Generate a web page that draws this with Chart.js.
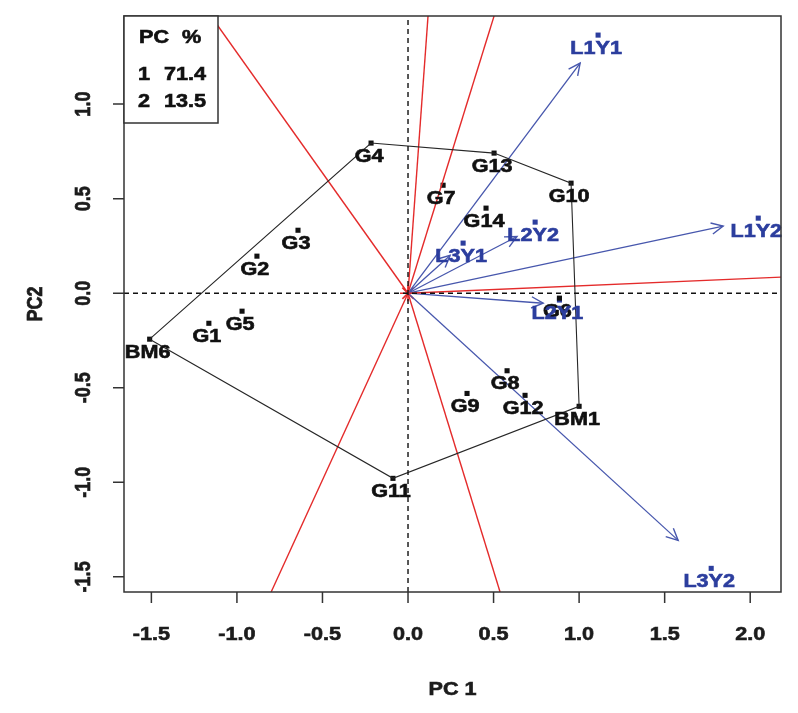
<!DOCTYPE html>
<html>
<head>
<meta charset="utf-8">
<script src="https://cdn.jsdelivr.net/npm/chart.js@4.4.1/dist/chart.umd.min.js"></script>
<style>
html,body{margin:0;padding:0;background:#fff;}
#c{display:block;}
</style>
</head>
<body>
<canvas id="c" width="798" height="713"></canvas>
<script>
// ---- data ----
const genotypes = ['G1','G2','G3','G4','G5','G6','G7','G8','G9','G10','G11','G12','G13','G14','BM1','BM6'];
const genoPC1 = [-1.164,-0.883,-0.643,-0.216,-0.970,0.885,0.205,0.579,0.345,0.953,-0.088,0.684,0.503,0.456,1.000,-1.510];
const genoPC2 = [-0.159, 0.196, 0.333, 0.794,-0.095,-0.026,0.571,-0.410,-0.530,0.582,-0.979,-0.540,0.741,0.450,-0.598,-0.243];

const environments = ['L1Y1','L1Y2','L2Y1','L2Y2','L3Y1','L3Y2'];
const envTipPC1 = [1.006, 1.842, 0.790, 0.637, 0.246, 1.579];
const envTipPC2 = [1.217, 0.355,-0.053, 0.300, 0.200,-1.307];
const envLabelPC1 = [1.111, 2.047, 0.885, 0.743, 0.322, 1.772];
const envLabelPC2 = [1.365, 0.397,-0.036, 0.376, 0.265,-1.455];

const hullOrder = ['BM6','G4','G13','G10','BM1','G11','BM6'];

const rayEndPC1 = [-1.152, 0.117, 0.503, 2.180, 0.538, -0.800];
const rayEndPC2 = [ 1.466, 1.466, 1.466, 0.085,-1.580, -1.580];

const xTicks = [-1.5,-1.0,-0.5,0.0,0.5,1.0,1.5,2.0];
const yTicks = [-1.5,-1.0,-0.5,0.0,0.5,1.0];
const legendHeader = ['PC','%'];
const legendPC = ['1','2'];
const legendPct = ['71.4','13.5'];
const xTitle = 'PC 1';
const yTitle = 'PC2';

// ---- styles ----
const FONT = 'bold 18px "Liberation Sans", Arial, Helvetica, sans-serif';
const SX = 1.2;
const BLUE_TXT = '#2c3e9e';
const BLUE_LINE = '#4757ad';
const RED = '#e42b2b';

const genoIdx = n => genotypes.indexOf(n);
const hullData = hullOrder.map(n => ({x: genoPC1[genoIdx(n)], y: genoPC2[genoIdx(n)]}));

const datasets = [];
// dashed reference axes
datasets.push({data:[{x:-1.66,y:0},{x:2.18,y:0}], showLine:true, borderColor:'#111', borderWidth:1.4, borderDash:[5,4], pointRadius:0});
datasets.push({data:[{x:0,y:-1.58},{x:0,y:1.466}], showLine:true, borderColor:'#111', borderWidth:1.4, borderDash:[5,4], pointRadius:0});
// hull
datasets.push({data:hullData, showLine:true, borderColor:'#262626', borderWidth:1.1, pointRadius:0});
// red rays
rayEndPC1.forEach((x,i)=>{
  datasets.push({data:[{x:0,y:0},{x:x,y:rayEndPC2[i]}], showLine:true, borderColor:RED, borderWidth:1.4, pointRadius:0});
});
// blue vectors
envTipPC1.forEach((x,i)=>{
  datasets.push({data:[{x:0,y:0},{x:x,y:envTipPC2[i]}], showLine:true, borderColor:BLUE_LINE, borderWidth:1.3, pointRadius:0, arrow:true});
});
// origin marker
datasets.push({data:[{x:0,y:0}], pointStyle:'star', pointRadius:8, borderColor:RED, backgroundColor:RED, borderWidth:1.6});
// genotype markers
datasets.push({data:genotypes.map((g,i)=>({x:genoPC1[i],y:genoPC2[i]})), pointStyle:'rect', pointRadius:3.6, backgroundColor:'#111', borderColor:'#111', borderWidth:0, labels:genotypes, labelColor:'#111'});
// environment markers
datasets.push({data:environments.map((e,i)=>({x:envLabelPC1[i],y:envLabelPC2[i]})), pointStyle:'rect', pointRadius:3.6, backgroundColor:BLUE_TXT, borderColor:BLUE_TXT, borderWidth:0, labels:environments, labelColor:BLUE_TXT});

function sText(ctx, txt, x, y, align, rot){
  ctx.save();
  ctx.translate(x,y);
  ctx.scale(SX,1);
  if(rot) ctx.rotate(-Math.PI/2);
  ctx.textAlign = align;
  ctx.textBaseline = 'alphabetic';
  ctx.lineWidth = 0.6;
  ctx.strokeStyle = ctx.fillStyle;
  ctx.fillText(txt,0,0);
  ctx.strokeText(txt,0,0);
  ctx.restore();
}

const decor = {
  id:'decor',
  afterDatasetsDraw(chart){
    const ctx = chart.ctx, a = chart.chartArea;
    const xs = chart.scales.x, ys = chart.scales.y;
    // arrowheads
    chart.data.datasets.forEach(ds=>{
      if(!ds.arrow) return;
      const p0 = ds.data[0], p1 = ds.data[1];
      const x0 = xs.getPixelForValue(p0.x), y0 = ys.getPixelForValue(p0.y);
      const x1 = xs.getPixelForValue(p1.x), y1 = ys.getPixelForValue(p1.y);
      const ang = Math.atan2(y1-y0, x1-x0);
      const L = 13, w = 0.45;
      ctx.save();
      ctx.strokeStyle = ds.borderColor; ctx.lineWidth = 1.4;
      ctx.beginPath();
      ctx.moveTo(x1 - L*Math.cos(ang-w), y1 - L*Math.sin(ang-w));
      ctx.lineTo(x1,y1);
      ctx.lineTo(x1 - L*Math.cos(ang+w), y1 - L*Math.sin(ang+w));
      ctx.stroke();
      ctx.restore();
    });
    // point labels
    ctx.save();
    ctx.font = FONT;
    chart.data.datasets.forEach(ds=>{
      if(!ds.labels) return;
      ctx.fillStyle = ds.labelColor;
      ds.data.forEach((p,i)=>{
        const px = xs.getPixelForValue(p.x), py = ys.getPixelForValue(p.y);
        sText(ctx, ds.labels[i], px-2, py+18.5, 'center', false);
      });
    });
    ctx.restore();
    // frame
    ctx.save();
    ctx.strokeStyle = '#333'; ctx.lineWidth = 1.5;
    ctx.strokeRect(a.left, a.top, a.right-a.left, a.bottom-a.top);
    // ticks
    ctx.beginPath();
    xTicks.forEach(v=>{ const px = xs.getPixelForValue(v); ctx.moveTo(px,a.bottom); ctx.lineTo(px,a.bottom+11); });
    yTicks.forEach(v=>{ const py = ys.getPixelForValue(v); ctx.moveTo(a.left,py); ctx.lineTo(a.left-11,py); });
    ctx.stroke();
    // tick labels
    ctx.font = FONT; ctx.fillStyle = '#1c1c1c';
    xTicks.forEach(v=> sText(ctx, v.toFixed(1), xs.getPixelForValue(v), 640, 'center', false));
    yTicks.forEach(v=> sText(ctx, v.toFixed(1), 90, ys.getPixelForValue(v), 'center', true));
    // axis titles
    sText(ctx, xTitle, (a.left+a.right)/2, 695, 'center', false);
    sText(ctx, yTitle, 42, (a.top+a.bottom)/2, 'center', true);
    // legend box
    ctx.fillStyle = '#fff';
    ctx.fillRect(a.left, a.top, 94, 107);
    ctx.strokeStyle = '#333'; ctx.lineWidth = 1.5;
    ctx.strokeRect(a.left, a.top, 94, 107);
    ctx.fillStyle = '#111';
    sText(ctx, legendHeader[0], 139, 43, 'left', false);
    sText(ctx, legendHeader[1], 182, 43, 'left', false);
    legendPC.forEach((t,i)=>{
      sText(ctx, t, 138, 80 + i*27, 'left', false);
      sText(ctx, legendPct[i], 164, 80 + i*27, 'left', false);
    });
    ctx.restore();
  }
};

new Chart(document.getElementById('c'), {
  type:'scatter',
  data:{datasets},
  options:{
    responsive:false,
    animation:false,
    devicePixelRatio:1,
    layout:{padding:{left:124, right:17, top:16, bottom:121}},
    plugins:{legend:{display:false}, tooltip:{enabled:false}},
    scales:{
      x:{type:'linear', min:-1.66, max:2.18, display:false},
      y:{type:'linear', min:-1.58, max:1.466, display:false}
    }
  },
  plugins:[decor]
});
</script>
</body>
</html>
